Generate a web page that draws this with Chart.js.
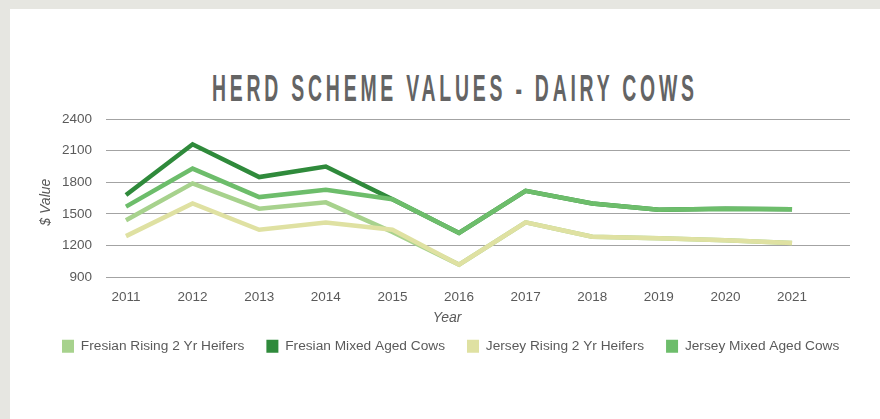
<!DOCTYPE html>
<html>
<head>
<meta charset="utf-8">
<script src="https://cdn.jsdelivr.net/npm/chart.js@4.4.0/dist/chart.umd.min.js"></script>
<style>
  html, body { margin: 0; padding: 0; }
  body { width: 880px; height: 419px; background: #e6e6e1; position: relative; overflow: hidden; }
  #card { position: absolute; left: 10px; top: 9px; right: 0; bottom: 0; background: #fff; }
  #titulo {
    position: absolute; top: 71px; left: 212px; white-space: nowrap;
    font: bold 36px "Liberation Sans", Arial, sans-serif; line-height: 36px;
    letter-spacing: 7px; color: #646464; transform-origin: 0 0;
  }
  #grafico { position: absolute; left: 0; top: 0; }
</style>
</head>
<body>
<div id="card"></div>
<div id="titulo">HERD SCHEME VALUES - DAIRY COWS</div>
<canvas id="grafico" width="880" height="419"></canvas>
<script>
// Dados
const anos = [2011, 2012, 2013, 2014, 2015, 2016, 2017, 2018, 2019, 2020, 2021]
const fresianRising = [1440, 1790, 1550, 1610, 1330, 1020, 1420, 1285, 1270, 1250, 1225]
const fresianMixed = [1680, 2160, 1850, 1950, 1640, 1320, 1720, 1600, 1540, 1550, 1545]
const jerseyRising = [1290, 1600, 1350, 1420, 1350, 1020, 1420, 1285, 1270, 1250, 1225]
const jerseyMixed = [1570, 1930, 1660, 1730, 1640, 1320, 1720, 1600, 1540, 1550, 1545]
const ticksY = [900, 1200, 1500, 1800, 2100, 2400]

const nomes = [
  "Fresian Rising 2 Yr Heifers",
  "Fresian Mixed Aged Cows",
  "Jersey Rising 2 Yr Heifers",
  "Jersey Mixed Aged Cows",
]
const cores = ["#a7d28d", "#2f8a3b", "#dfe1a2", "#6dbd6b"]

const fonte = '"Liberation Sans", Arial, Helvetica, sans-serif'
const corTexto = "#5a5a5a"

// Ajusta o título (fonte condensada simulada)
const titulo = document.getElementById("titulo")
const larguraNatural = titulo.getBoundingClientRect().width - 7
titulo.style.transform = `scaleX(${482 / larguraNatural})`

function serie(valores) {
  return valores.map((v, i) => ({ x: anos[i], y: v }))
}

// Títulos dos eixos desenhados à parte (não ficam centralizados no original)
const titulosEixos = {
  id: "titulosEixos",
  afterDraw(chart) {
    const { ctx, scales, chartArea } = chart
    ctx.save()
    ctx.font = `italic 14px ${fonte}`
    ctx.fillStyle = corTexto
    ctx.textAlign = "center"
    ctx.textBaseline = "middle"
    ctx.fillText("Year", scales.x.getPixelForValue(2015.82), 318)
    ctx.translate(46, (chartArea.top + chartArea.bottom) / 2 + 4)
    ctx.rotate(-Math.PI / 2)
    ctx.fillText("$ Value", 0, 0)
    ctx.restore()
  },
}

const dados = [fresianRising, fresianMixed, jerseyRising, jerseyMixed]

const chart = new Chart(document.getElementById("grafico"), {
  type: "line",
  data: {
    datasets: dados.map((d, i) => ({
      label: nomes[i],
      data: serie(d),
      borderColor: cores[i],
      backgroundColor: cores[i],
      borderWidth: 4.5,
      pointRadius: 0,
      tension: 0,
      order: i < 2 ? 1 : 0, // Jersey por cima
    })),
  },
  options: {
    responsive: false,
    animation: false,
    layout: { padding: { left: 40, right: 0, top: 119, bottom: 56 } },
    plugins: {
      tooltip: { enabled: false },
      legend: {
        position: "bottom",
        align: "start",
        labels: {
          boxWidth: 12,
          boxHeight: 13,
          padding: 22,
          color: corTexto,
          font: { size: 13.7, family: fonte },
          sort: (a, b) => a.datasetIndex - b.datasetIndex,
          generateLabels(chart) {
            return Chart.defaults.plugins.legend.labels
              .generateLabels(chart)
              .map((l) => ({ ...l, lineWidth: 0 }))
          },
        },
      },
    },
    scales: {
      x: {
        type: "linear",
        min: 2010.7,
        max: 2021.87,
        afterFit(scale) { scale.height = 40 },
        afterBuildTicks(scale) { scale.ticks = anos.map((v) => ({ value: v })) },
        grid: { display: false, drawTicks: false },
        border: { display: false },
        ticks: {
          padding: 12,
          color: corTexto,
          font: { size: 13.5, family: fonte },
          callback: (v) => String(v),
        },
      },
      y: {
        min: ticksY[0],
        max: ticksY[ticksY.length - 1],
        afterFit(scale) { scale.width = 66 },
        afterBuildTicks(scale) { scale.ticks = ticksY.map((v) => ({ value: v })) },
        grid: { color: "#a3a3a3", lineWidth: 1, drawTicks: false },
        border: { display: false },
        ticks: {
          padding: 14,
          color: corTexto,
          font: { size: 13.5, family: fonte },
          callback: (v) => String(v),
        },
      },
      // eixo vazio só para reservar a margem direita
      margemDireita: {
        type: "linear",
        position: "right",
        afterFit(scale) { scale.width = 30 },
        grid: { display: false, drawTicks: false },
        border: { display: false },
        ticks: { display: false },
      },
    },
  },
  plugins: [titulosEixos],
})
</script>
</body>
</html>
